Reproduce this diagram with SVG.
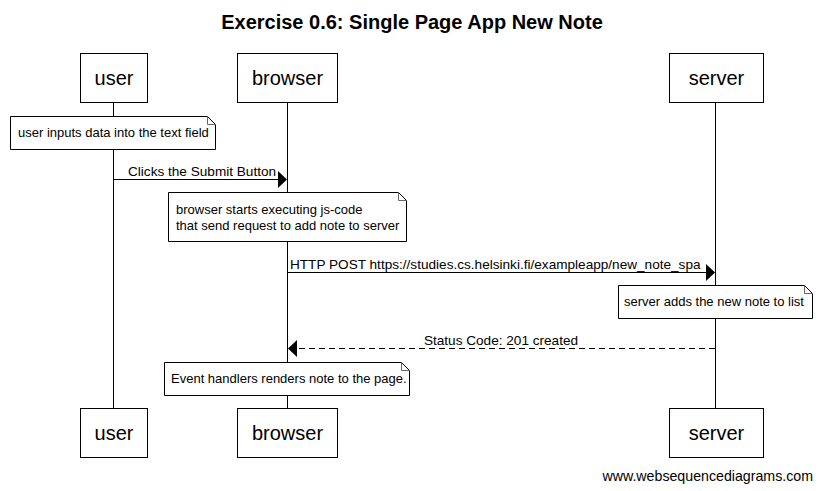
<svg xmlns="http://www.w3.org/2000/svg" width="822" height="491" viewBox="0 0 822 491">
<style>
.box{fill:#fff;stroke:#000;stroke-width:1}
.life{stroke:#000;stroke-width:1}
.pt{font-family:"Liberation Sans",Arial,sans-serif;font-size:20px;text-anchor:middle;fill:#000}
.nt{font-family:"Liberation Sans",Arial,sans-serif;font-size:13px;fill:#000}
.mt{font-family:"Liberation Sans",Arial,sans-serif;font-size:13.6px;fill:#000}
.note{fill:#fff;stroke:#000;stroke-width:1}
.fold{fill:none;stroke:#666;stroke-width:1}
.msg{stroke:#000;stroke-width:1;fill:none}
.dash{stroke-dasharray:6,4}
</style>
<rect width="822" height="491" fill="#fff"/>
<text x="412" y="29" font-family="Liberation Sans,Arial,sans-serif" font-size="20" font-weight="bold" text-anchor="middle">Exercise 0.6: Single Page App New Note</text>
<g id="lifelines">
<line class="life" x1="113.5" y1="102" x2="113.5" y2="408"/>
<line class="life" x1="287.5" y1="102" x2="287.5" y2="408"/>
<line class="life" x1="715.5" y1="102" x2="715.5" y2="408"/>
</g>
<g id="user">
<rect class="box" x="80.5" y="53.5" width="67" height="49"/>
<text class="pt" x="114" y="85">user</text>
<rect class="box" x="80.5" y="408.5" width="67" height="49"/>
<text class="pt" x="114" y="440">user</text>
</g>
<g id="browser">
<rect class="box" x="237.5" y="53.5" width="100" height="49"/>
<text class="pt" x="287.5" y="85">browser</text>
<rect class="box" x="237.5" y="408.5" width="100" height="49"/>
<text class="pt" x="287.5" y="440">browser</text>
</g>
<g id="server">
<rect class="box" x="669.5" y="53.5" width="94" height="49"/>
<text class="pt" x="716.5" y="85">server</text>
<rect class="box" x="669.5" y="408.5" width="94" height="49"/>
<text class="pt" x="716.5" y="440">server</text>
</g>
<g id="note1">
<path class="note" d="M10.5,116.5 H207.5 L215.5,124.5 V149.5 H10.5 Z"/>
<path class="fold" d="M207.5,116.5 V124.5 H215.5"/>
<text class="nt" x="18" y="137">user inputs data into the text field</text>
</g>
<g id="note2">
<path class="note" d="M168.5,192.5 H398.5 L406.5,200.5 V241.5 H168.5 Z"/>
<path class="fold" d="M398.5,192.5 V200.5 H406.5"/>
<text class="nt" x="176" y="214">browser starts executing js-code</text>
<text class="nt" x="176" y="230">that send request to add note to server</text>
</g>
<g id="note3">
<path class="note" d="M618.5,285.5 H804.5 L812.5,293.5 V318.5 H618.5 Z"/>
<path class="fold" d="M804.5,285.5 V293.5 H812.5"/>
<text class="nt" x="624" y="306">server adds the new note to list</text>
</g>
<g id="note4">
<path class="note" d="M164.5,362.5 H401.5 L409.5,370.5 V395.5 H164.5 Z"/>
<path class="fold" d="M401.5,362.5 V370.5 H409.5"/>
<text class="nt" x="171" y="383">Event handlers renders note to the page.</text>
</g>
<g id="connectors">
<line class="msg" x1="113.5" y1="179.5" x2="279" y2="179.5"/>
<polygon points="278,171 287,179.5 278,188" fill="#000"/>
<text class="mt" x="128" y="176">Clicks the Submit Button</text>
<line class="msg" x1="287.5" y1="272.5" x2="707" y2="272.5"/>
<polygon points="706,264 715,272.5 706,281" fill="#000"/>
<text class="mt" x="290" y="269">HTTP POST https://studies.cs.helsinki.fi/exampleapp/new_note_spa</text>
<line class="msg dash" x1="715" y1="348.5" x2="296" y2="348.5"/>
<polygon points="297,340 288,348.5 297,357" fill="#000"/>
<text class="mt" x="501" y="345" text-anchor="middle">Status Code: 201 created</text>
</g>
<text x="813" y="481" font-family="Liberation Sans,Arial,sans-serif" font-size="14.2" text-anchor="end">www.websequencediagrams.com</text>
</svg>
